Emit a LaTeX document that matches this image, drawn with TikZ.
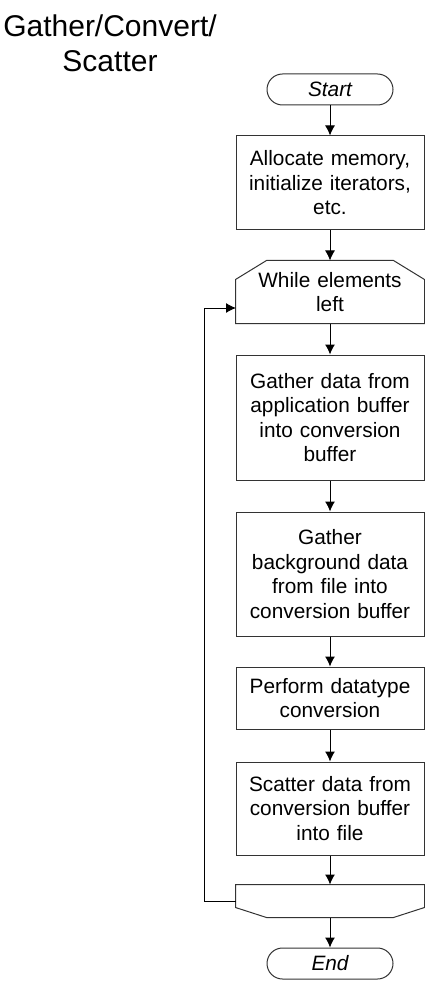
\documentclass[tikz,border=0pt]{standalone}
\usepackage{fontspec}
\setmainfont{Liberation Sans}
\usetikzlibrary{arrows.meta}
\begin{document}
\begin{tikzpicture}[x=1pt, y=-1pt, >={Latex[length=10pt,width=10pt]}, line width=1pt,
  every node/.style={font=\fontsize{20.8}{24.5}\selectfont, align=center, inner sep=0pt},
  stepbox/.style={draw=black!80, minimum width=188pt, text width=180pt},
  term/.style={draw=black!80, rounded corners=15.5pt, minimum width=126pt, minimum height=31pt, font=\fontsize{20.8}{24.5}\selectfont\itshape},
  loopbox/.style={minimum width=188pt, text width=180pt}]
\useasboundingbox (0,0) rectangle (425,981);
\node[font=\fontsize{30}{35}\selectfont] (title) at (110,43) {Gather/Convert/\\Scatter};
\node[term] (start) at (330,89.5) {Start};
\node[stepbox, minimum height=94pt] (alloc) at (330,183) {Allocate memory,\\initialize iterators,\\etc.};
\node[loopbox, minimum height=62pt] (while) at (330,292) {While elements\\left};
\node[stepbox, minimum height=125pt] (gapp) at (330,417.5) {Gather data from\\application buffer\\into conversion\\buffer};
\node[stepbox, minimum height=124pt] (gbkg) at (330,574) {Gather\\background data\\from file into\\conversion buffer};
\node[stepbox, minimum height=62pt] (conv) at (330,698) {Perform datatype\\conversion};
\node[stepbox, minimum height=93pt] (scat) at (330,808.5) {Scatter data from\\conversion buffer\\into file};
\node[loopbox, minimum height=32pt] (wend) at (330,901) {};
\node[term] (end) at (330,963.5) {End};
% loop limits
\draw[black!80] ([xshift=31pt]while.north west) -- ([xshift=-31pt]while.north east)
  -- ([yshift=-19pt]while.north east) -- (while.south east) -- (while.south west)
  -- ([yshift=-19pt]while.north west) -- cycle;
\draw[black!80] (wend.north west) -- (wend.north east) -- ([yshift=10pt]wend.south east)
  -- ([xshift=-31pt]wend.south east) -- ([xshift=31pt]wend.south west)
  -- ([yshift=10pt]wend.south west) -- cycle;
\coordinate (ret) at (236,308);
\draw[->] (start) -- (alloc);
\draw[->] (alloc) -- (while);
\draw[->] (while) -- (gapp);
\draw[->] (gapp) -- (gbkg);
\draw[->] (gbkg) -- (conv);
\draw[->] (conv) -- (scat);
\draw[->] (scat) -- (wend);
\draw[->] (wend) -- (end);
\draw[->] (wend.west) -- ++(-31,0) |- (ret);
\end{tikzpicture}
\end{document}
